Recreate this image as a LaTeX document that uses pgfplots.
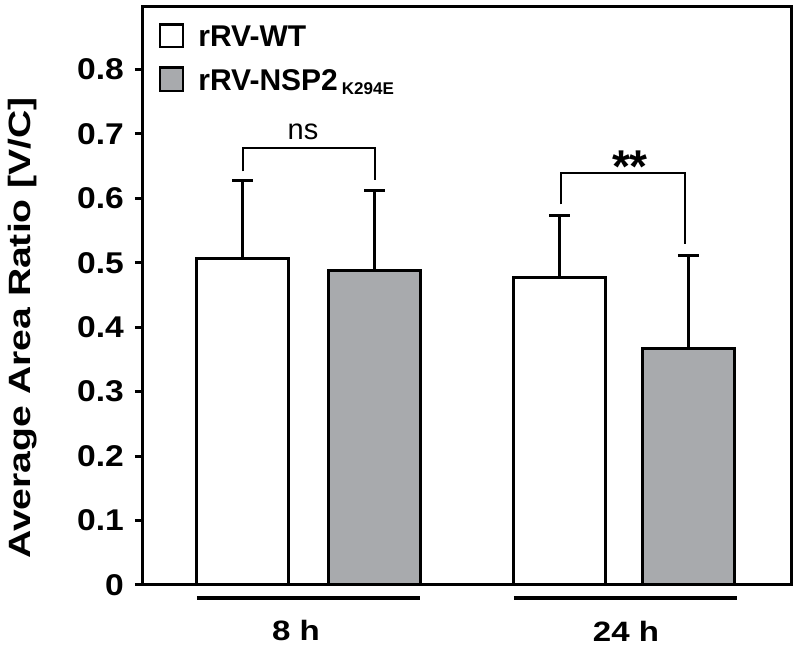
\documentclass[border=0pt]{standalone}
\usepackage{fontspec}
\setmainfont{Liberation Sans}
\usepackage{pgfplots}
\pgfplotsset{compat=1.18}
\definecolor{barGray}{RGB}{168,170,173}
\begin{document}
\begin{tikzpicture}
\useasboundingbox (-71.5pt,-31pt) rectangle (328.5pt,292.5pt);
\begin{axis}[
  at={(0,0)}, anchor=south west,
  scale only axis, width=324.5pt, height=289pt,
  xmin=0, xmax=649, ymin=0, ymax=0.897,
  axis line style={line width=1.5pt},
  xtick=\empty,
  ytick={0,0.1,0.2,0.3,0.4,0.5,0.6,0.7,0.8},
  ytick pos=left,
  tick align=outside,
  major tick length=4pt,
  tick style={line width=1.5pt, black},
  /pgf/number format/assume math mode=true,
  /pgf/number format/fixed, /pgf/number format/precision=1,
  yticklabel={\scalebox{1.12}[1]{\pgfmathprintnumber{\tick}}},
  yticklabel style={font=\fontsize{15}{16}\selectfont\bfseries, xshift=-2pt},
  ylabel={\scalebox{1.27}[1]{Average Area Ratio [V/C]}},
  ylabel style={font=\fontsize{15.4}{17}\selectfont\bfseries, at={(rel axis cs:-0.186,0.445)}, anchor=center},
  clip=false,
]
% rRV-WT
\addplot[ybar, bar width=92, bar shift=0pt, fill=white, draw=black, line width=1.5pt,
  error bars/.cd, y dir=plus, y explicit,
  error bar style={line width=1.5pt, black},
  error mark options={rotate=90, mark size=5.25pt, line width=1.5pt, black}]
  coordinates {(100,0.5065) +- (0,0.1215) (416.7,0.477) +- (0,0.097)};
% rRV-NSP2 K294E
\addplot[ybar, bar width=92, bar shift=0pt, fill=barGray, draw=black, line width=1.5pt,
  error bars/.cd, y dir=plus, y explicit,
  error bar style={line width=1.5pt, black},
  error mark options={rotate=90, mark size=5.25pt, line width=1.5pt, black}]
  coordinates {(232,0.488) +- (0,0.124) (545.5,0.367) +- (0,0.145)};

% significance brackets
\draw[line width=1pt] (axis cs:100,0.642) -- (axis cs:100,0.6775) -- (axis cs:232,0.6775) -- (axis cs:232,0.628);
\node[font=\fontsize{14.5}{16}\selectfont, anchor=base] at (axis cs:160,0.6915) {ns};
\draw[line width=1pt] (axis cs:418,0.5907) -- (axis cs:418,0.6388) -- (axis cs:542,0.6388) -- (axis cs:542,0.5287);
\node[font=\fontsize{23}{25}\selectfont\bfseries, anchor=base] at (axis cs:487,0.624) {**};

% group lines and labels
\draw[line width=2.25pt] (axis cs:54,-0.0202) -- (axis cs:277,-0.0202);
\draw[line width=2.25pt] (axis cs:371,-0.0202) -- (axis cs:594,-0.0202);
\node[font=\fontsize{14}{16}\selectfont\bfseries] at (axis cs:153,-0.0713) {\scalebox{1.18}[1]{8 h}};
\node[font=\fontsize{14}{16}\selectfont\bfseries] at (axis cs:483,-0.0713) {\scalebox{1.18}[1]{24 h}};

% legend
\draw[line width=1.2pt, fill=white] (axis cs:17,0.8345) rectangle (axis cs:40,0.870);
\draw[line width=1.2pt, fill=barGray] (axis cs:17,0.7665) rectangle (axis cs:40,0.803);
\node[font=\fontsize{15}{17}\selectfont\bfseries, anchor=base west, inner sep=0pt] at (axis cs:55,0.836) {rRV-WT};
\node[font=\fontsize{15}{17}\selectfont\bfseries, anchor=base west, inner sep=0pt] at (axis cs:55,0.768) {rRV-NSP2\hspace{2pt}\raisebox{-2pt}{\fontsize{8.5}{9}\selectfont K294E}};
\end{axis}
\end{tikzpicture}
\end{document}
